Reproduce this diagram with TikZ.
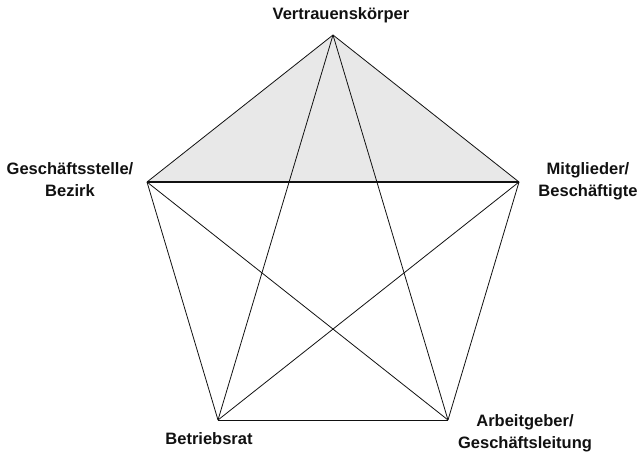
\documentclass[tikz,border=0pt]{standalone}
\usepackage{fontspec}
\setmainfont{Liberation Sans}
\usepackage{tikz}
\usetikzlibrary{positioning}
\usepackage{xcolor}
\definecolor{pentInk}{HTML}{111111}
\definecolor{pentShade}{HTML}{E8E8E8}

\begin{document}
\begin{tikzpicture}[
  x=1pt, y=-1pt,
  font=\fontsize{16.5}{22}\selectfont\bfseries,
  lbl/.style={text=pentInk, inner sep=0pt, align=center},
  edge/.style={draw=pentInk, line width=0.8pt, line join=miter},
  base/.style={draw=pentInk, line width=1.7pt},
  shade/.style={fill=pentShade},
]
\useasboundingbox (0,0) rectangle (638,455);

% ============================ the five corners ===============================
\coordinate (vk) at (333,35);
\coordinate (gs) at (147,182);
\coordinate (mb) at (519,182);
\coordinate (br) at (218,420);
\coordinate (ag) at (448,420);

% the shaded triangle on top
\fill[shade] (vk) -- (gs) -- (mb) -- cycle;

% ============================ every pair joined ==============================
\foreach \a/\b in {vk/gs, vk/mb, vk/br, vk/ag, gs/br, gs/ag, mb/br, mb/ag, br/ag}
  \draw[edge] (\a) -- (\b);
\draw[base] (gs) -- (mb);

% ================================= labels ====================================
\node[lbl] (vkText) at (341,15) {Vertrauenskörper};
\node[lbl] (gsText) at (70,180) {Geschäftsstelle/\\Bezirk};
\node[lbl] (mbText) at (588,181) {Mitglieder/\\Beschäftigte};
\node[lbl] (brText) at (209,439) {Betriebsrat};
\node[lbl] (agText) at (525,433) {Arbeitgeber/\\Geschäftsleitung};
\end{tikzpicture}
\end{document}
